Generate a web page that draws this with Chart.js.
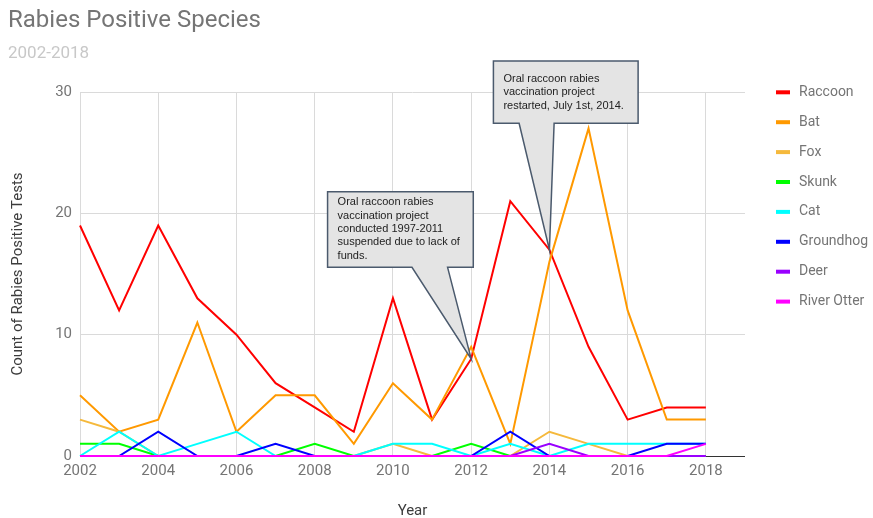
<!DOCTYPE html>
<html>
<head>
<meta charset="utf-8">
<title>Rabies Positive Species</title>
<script src="https://cdn.jsdelivr.net/npm/chart.js@4.4.0/dist/chart.umd.min.js"></script>
<style>
  html, body { margin: 0; padding: 0; background: #ffffff; }
  canvas { display: block; }
</style>
</head>
<body>
<canvas id="chart" width="873" height="518"></canvas>
<script>
// Positive rabies tests per species, by year
const years = [2002, 2003, 2004, 2005, 2006, 2007, 2008, 2009, 2010, 2011, 2012, 2013, 2014, 2015, 2016, 2017, 2018];
const raccoon    = [19, 12, 19, 13, 10, 6, 4, 2, 13, 3, 8, 21, 17, 9, 3, 4, 4];
const bat        = [5, 2, 3, 11, 2, 5, 5, 1, 6, 3, 9, 1, 16, 27, 12, 3, 3];
const fox        = [3, 2, 0, 0, 0, 0, 0, 0, 1, 0, 0, 0, 2, 1, 0, 0, 0];
const skunk      = [1, 1, 0, 0, 0, 0, 1, 0, 0, 0, 1, 0, 0, 0, 0, 0, 0];
const cat        = [0, 2, 0, 1, 2, 0, 0, 0, 1, 1, 0, 1, 0, 1, 1, 1, 1];
const groundhog  = [0, 0, 2, 0, 0, 1, 0, 0, 0, 0, 0, 2, 0, 0, 0, 1, 1];
const deer       = [0, 0, 0, 0, 0, 0, 0, 0, 0, 0, 0, 0, 1, 0, 0, 0, 0];
const riverOtter = [0, 0, 0, 0, 0, 0, 0, 0, 0, 0, 0, 0, 0, 0, 0, 0, 1];

const speciesNames = ['Raccoon', 'Bat', 'Fox', 'Skunk', 'Cat', 'Groundhog', 'Deer', 'River Otter'];
const speciesValues = [raccoon, bat, fox, skunk, cat, groundhog, deer, riverOtter];
const speciesColors = ['#ff0000', '#ff9900', '#f5b93c', '#00ff00', '#00ffff', '#0000ff', '#9900ff', '#ff00ff'];

const yTicks = [0, 10, 20, 30];

const titleText = 'Rabies Positive Species';
const subtitleText = '2002-2018';
const xTitle = 'Year';
const yTitle = 'Count of Rabies Positive Tests';

// Callout notes anchored on the raccoon series
const noteYears = [2012, 2014];
const noteLines = [
  ['Oral raccoon rabies', 'vaccination project', 'conducted 1997-2011', 'suspended due to lack of', 'funds.'],
  ['Oral raccoon rabies', 'vaccination project', 'restarted, July 1st, 2014.']
];

// Callout box geometry, in pixels relative to the anchor point
const noteShapes = [
  { l: -143.6, r: 2.1, t: -167.2, b: -91.6, tailL: -59.2, tailR: -23.6, textTop: 10.6 },
  { l: -56, r: 88.7, t: -188.8, b: -126.5, tailL: -30.3, tailR: 4.7, textTop: 18 }
];

const UI_FONT = 'Roboto, "Noto Sans", Arial, sans-serif';
const NOTE_FONT = '11px "Liberation Sans", Arial, sans-serif';

const datasets = speciesNames.map((name, i) => ({
  label: name,
  data: years.map((yr, k) => ({ x: yr, y: speciesValues[i][k] })),
  borderColor: speciesColors[i],
  backgroundColor: speciesColors[i],
  borderWidth: 2,
  pointRadius: 0,
  tension: 0,
  fill: false,
  clip: 4,
  order: -i
}));

const decorations = {
  id: 'decorations',
  afterDatasetsDraw(chart) {
    const ctx = chart.ctx;
    const xs = chart.scales.x;
    const ys = chart.scales.y;

    // Callouts
    noteYears.forEach((yr, n) => {
      const idx = years.indexOf(yr);
      const px = xs.getPixelForValue(yr);
      const py = ys.getPixelForValue(raccoon[idx]);
      const s = noteShapes[n];
      const L = px + s.l, R = px + s.r, T = py + s.t, B = py + s.b;
      ctx.save();
      ctx.beginPath();
      ctx.moveTo(L, T);
      ctx.lineTo(R, T);
      ctx.lineTo(R, B);
      ctx.lineTo(px + s.tailR, B);
      ctx.lineTo(px, py);
      ctx.lineTo(px + s.tailL, B);
      ctx.lineTo(L, B);
      ctx.closePath();
      ctx.fillStyle = '#e4e4e4';
      ctx.fill();
      ctx.lineWidth = 1.5;
      ctx.strokeStyle = '#4b5a6d';
      ctx.lineJoin = 'miter';
      ctx.stroke();
      ctx.fillStyle = '#222222';
      ctx.font = NOTE_FONT;
      ctx.textAlign = 'left';
      ctx.textBaseline = 'middle';
      noteLines[n].forEach((line, j) => {
        ctx.fillText(line, L + 10, T + s.textTop + j * 13.33);
      });
      ctx.restore();
    });
  },
  afterDraw(chart) {
    const ctx = chart.ctx;
    const area = chart.chartArea;
    ctx.save();

    // Title and subtitle
    ctx.textAlign = 'left';
    ctx.textBaseline = 'middle';
    ctx.fillStyle = '#757575';
    ctx.font = '24px ' + UI_FONT;
    ctx.fillText(titleText, 8, 21);
    ctx.fillStyle = '#c8c8c8';
    ctx.font = '17px ' + UI_FONT;
    ctx.fillText(subtitleText, 8, 54);

    // Axis titles
    ctx.fillStyle = '#3c3c3c';
    ctx.font = '15px ' + UI_FONT;
    ctx.textAlign = 'center';
    ctx.fillText(xTitle, (area.left + area.right) / 2, 511);
    ctx.save();
    ctx.translate(18, (area.top + area.bottom) / 2);
    ctx.rotate(-Math.PI / 2);
    ctx.fillText(yTitle, 0, 0);
    ctx.restore();

    // Legend
    ctx.textAlign = 'left';
    ctx.font = '14px ' + UI_FONT;
    speciesNames.forEach((name, i) => {
      const y = 92.3 + i * 29.9;
      ctx.fillStyle = speciesColors[i];
      ctx.fillRect(776, y - 2, 14, 4);
      ctx.fillStyle = '#757575';
      ctx.fillText(name, 799, y);
    });
    ctx.restore();
  }
};

new Chart(document.getElementById('chart'), {
  type: 'line',
  data: { datasets },
  options: {
    responsive: false,
    animation: false,
    layout: { padding: { top: 92, right: 128, left: 0, bottom: 0 } },
    plugins: {
      legend: { display: false },
      tooltip: { enabled: false },
      title: { display: false }
    },
    scales: {
      x: {
        type: 'linear',
        min: 2002,
        max: 2019,
        afterBuildTicks: (scale) => {
          scale.ticks = years.filter((yr) => yr % 2 === 0).map((yr) => ({ value: yr }));
        },
        afterFit: (scale) => { scale.height = 62; },
        ticks: {
          color: '#757575',
          font: { family: UI_FONT, size: 15 },
          padding: 6,
          maxRotation: 0,
          autoSkip: false,
          callback: (v) => String(v)
        },
        grid: { color: '#dadada', lineWidth: 1, drawTicks: false },
        border: { display: false }
      },
      y: {
        min: 0,
        max: 30,
        afterBuildTicks: (scale) => {
          scale.ticks = yTicks.map((v) => ({ value: v }));
        },
        afterFit: (scale) => { scale.width = 80; },
        ticks: {
          color: '#757575',
          font: { family: UI_FONT, size: 15 },
          padding: 8
        },
        grid: {
          color: (c) => (c.tick && c.tick.value === 0 ? '#333333' : '#dadada'),
          lineWidth: 1,
          drawTicks: false
        },
        border: { display: false }
      }
    }
  },
  plugins: [decorations]
});
</script>
</body>
</html>
